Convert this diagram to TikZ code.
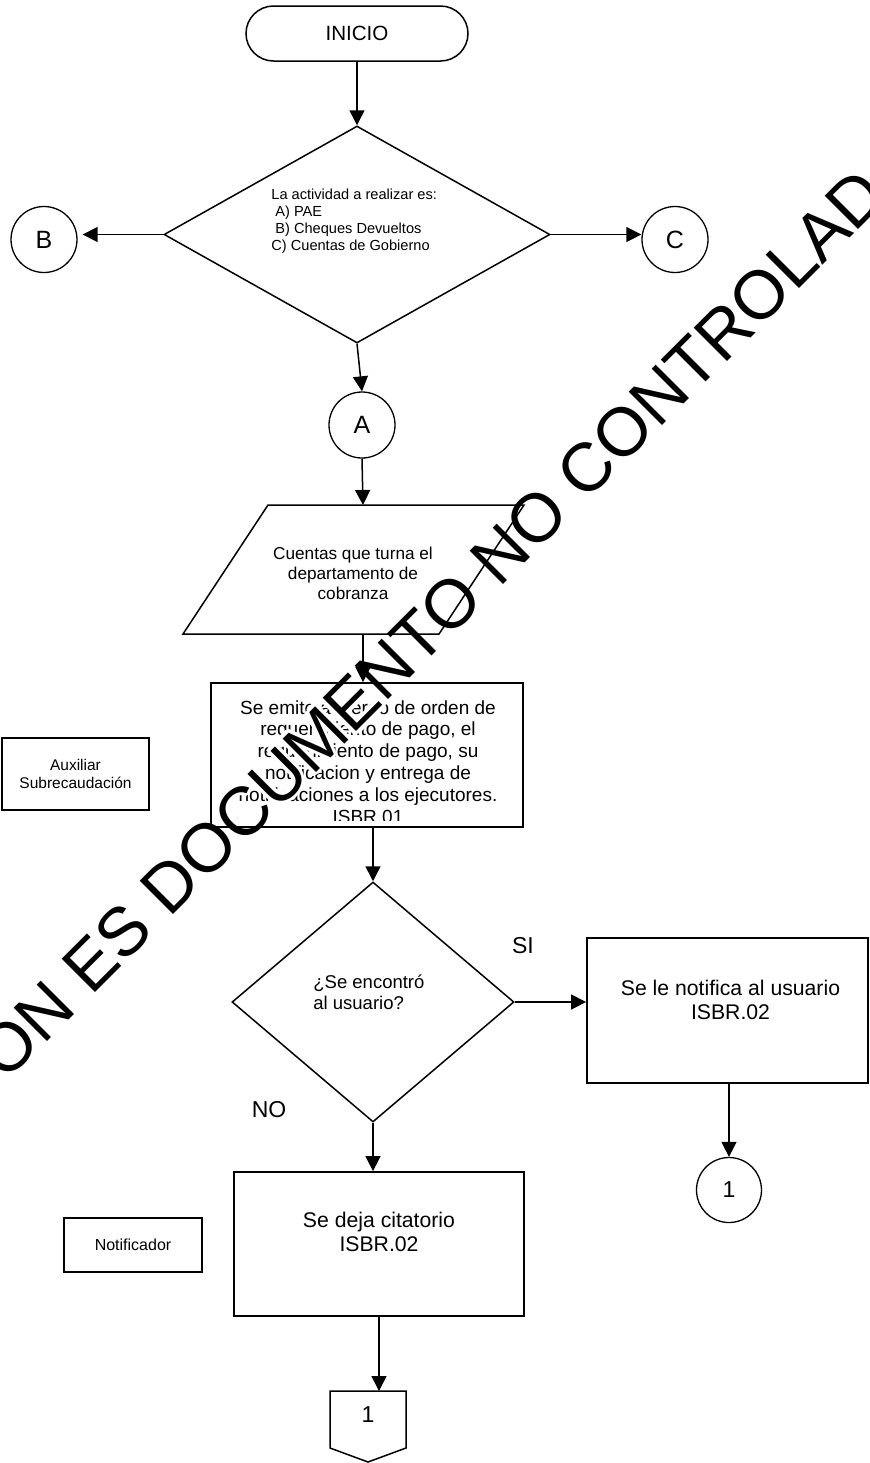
\documentclass[tikz,border=0pt]{standalone}
\usepackage{fontspec}
\setmainfont{Liberation Sans}
\usetikzlibrary{shapes.geometric,arrows.meta,calc}
\tikzset{
 arr/.style={line width=0.75pt, -{Triangle[length=7.5pt,width=7.5pt]}},
 conn/.style={circle, draw, line width=0.65pt, minimum size=33pt, inner sep=0pt, font=\fontsize{12.5}{14}\selectfont},
 dec/.style={diamond, draw, line width=0.75pt, inner sep=0pt},
 procbox/.style={rectangle, draw, line width=0.9pt, inner sep=0pt},
 txt/.style={inner sep=0pt, align=center},
 role/.style={rectangle, draw, line width=0.9pt, inner sep=0pt, align=center},
 lbl/.style={inner sep=0pt, font=\fontsize{11.5}{13}\selectfont},
 wm/.style={inner sep=0pt, rotate=45, font=\fontsize{34.25}{35}\selectfont},
}
\begin{document}
\begin{tikzpicture}[x=0.5pt,y=-0.5pt]
\useasboundingbox (0,0) rectangle (869,1463);
\clip (0,0) rectangle (869,1463);

% ---------- texts
\node[txt, align=left, anchor=west, font=\fontsize{7.3}{8.5}\selectfont] (d1t) at (271,221.5) {La actividad a realizar es:\\\hspace*{2pt}A) PAE\\\hspace*{2pt}B) Cheques Devueltos\\C) Cuentas de Gobierno};
\node[txt, font=\fontsize{8.6}{10}\selectfont] (para) at (353,573) {Cuentas que turna el\\departamento de\\cobranza};
\begin{scope}
\clip (211,683) rectangle (523,820);
\node[txt, anchor=north, font=\fontsize{9.5}{10.9}\selectfont] (emitet) at (368,700) {Se emite acuerdo de orden de\\requerimiento de pago, el\\requerimiento de pago, su\\notificacion y entrega de\\notificaciones a los ejecutores.\\ISBR.01};
\end{scope}
\node[txt, align=left, anchor=west, font=\fontsize{9.25}{10.5}\selectfont] (d2t) at (313,992.5) {¿Se encontró\\al usuario?};
\node[lbl] (si) at (523,946) {SI};
\node[lbl] (no) at (269,1110) {NO};
\node[txt, font=\fontsize{10.6}{12}\selectfont] (notift) at (730.5,1000) {Se le notifica al usuario\\ISBR.02};
\node[txt, font=\fontsize{10.6}{12}\selectfont] (citt) at (379,1231.5) {Se deja citatorio\\ISBR.02};
\node[inner sep=0pt, font=\fontsize{11.5}{13}\selectfont] (offt) at (368,1415) {1};

% ---------- watermark halo
\foreach \a in {0,45,...,315} {
  \node[wm, text=white] (wmh\a) at ($(431,624)+(\a:1.8pt)$) {ON ES DOCUMENTO NO CONTROLAD};
}

% ---------- shapes
\node[rectangle, draw, line width=0.75pt, rounded corners=13.75pt, minimum width=111pt, minimum height=27.5pt, font=\fontsize{10.3}{12}\selectfont] (inicio) at (357,33.5) {INICIO};
\node[dec, minimum width=193pt, minimum height=108.5pt] (d1) at (357,234.5) {};
\node[conn] (B) at (44,239.5) {B};
\node[conn] (C) at (675,239.5) {C};
\node[conn] (A) at (362,425) {A};

\draw[line width=0.75pt] (183,634) -- (268,505) -- (524,505) -- (439,634) -- cycle;
\coordinate (paraTop) at (363,505);
\coordinate (paraBot) at (363,634);

\node[procbox, minimum width=156pt, minimum height=72pt] (emite) at (367,755) {};
\node[role, minimum width=73.5pt, minimum height=36pt, font=\fontsize{7.75}{9}\selectfont] (aux) at (75.5,774) {Auxiliar\\Subrecaudación};

\node[dec, minimum width=141pt, minimum height=120pt] (d2) at (373,1002) {};
\node[procbox, minimum width=140.5pt, minimum height=72.5pt] (notif) at (727.5,1010.5) {};
\node[conn, minimum size=32.5pt, font=\fontsize{11.5}{13}\selectfont] (one1) at (729,1190) {1};
\node[procbox, minimum width=145pt, minimum height=72pt] (cit) at (379,1244) {};
\node[role, minimum width=69pt, minimum height=27pt, font=\fontsize{8}{9.5}\selectfont] (notificador) at (133,1245) {Notificador};

\draw[line width=0.75pt] (330,1391) -- (406,1391) -- (406,1448) -- (368,1462) -- (330,1448) -- cycle;
\coordinate (offTop) at (368,1391);

% ---------- connectors
\draw[arr] (inicio.south) -- (d1.north);
\draw[arr, shorten >=2.5pt] (d1.west) -- (B.east |- d1.west);
\draw[arr] (d1.east) -- (C.west |- d1.east);
\draw[arr] (d1.south) -- (A.north);
\draw[arr] (A.south) -- (paraTop);
\draw[arr] (paraBot) -- (paraBot |- emite.north);
\draw[arr] (emite.south -| d2.north) -- (d2.north);
\draw[arr] (d2.east) -- (notif.west |- d2.east);
\draw[arr] (notif.south -| one1.north) -- (one1.north);
\draw[arr] (d2.south) -- (d2.south |- cit.north);
\draw[arr] (cit.south) -- (cit.south |- offTop);

% ---------- watermark
\node[wm] (wm) at (431,624) {ON ES DOCUMENTO NO CONTROLAD};
\end{tikzpicture}
\end{document}
